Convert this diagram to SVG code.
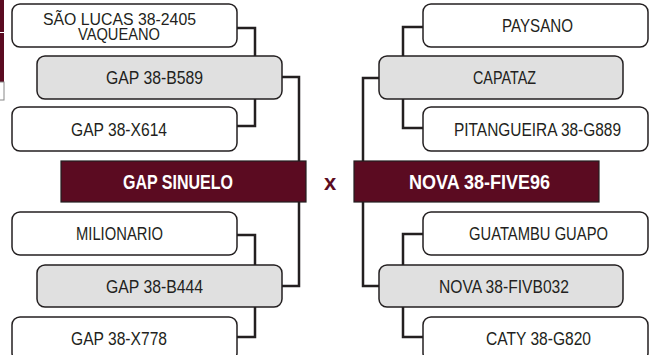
<svg xmlns="http://www.w3.org/2000/svg" width="656" height="355" viewBox="0 0 656 355">
<style>
.w{fill:#ffffff;stroke:#231f20;stroke-width:1.5}
.g{fill:#e0e0e0;stroke:#231f20;stroke-width:1.5}
.m{fill:#5b0b21;stroke:#231f20;stroke-width:1.2}
.t{font-family:"Liberation Sans Narrow","Liberation Sans",Arial,sans-serif;font-size:18px;fill:#231f20;text-anchor:middle}
.t2{font-family:"Liberation Sans Narrow","Liberation Sans",Arial,sans-serif;font-size:16px;fill:#231f20;text-anchor:middle}
.tb{font-family:"Liberation Sans Narrow","Liberation Sans",Arial,sans-serif;font-size:21px;font-weight:bold;fill:#ffffff;text-anchor:middle}
.c{fill:none;stroke:#231f20;stroke-width:2.5}
</style>
<rect x="0" y="0" width="656" height="355" fill="#ffffff"/>
<g id="edge-crop">
<rect x="-1" y="-1" width="5" height="33" fill="#5b0b21"/>
<rect x="-1" y="33" width="5" height="49" fill="#5b0b21"/>
<rect x="-1" y="82" width="5" height="18" fill="#ffffff" stroke="#888" stroke-width="1"/>
</g>
<g id="connectors">
<path class="c" d="M237,28 H255 V56"/>
<path class="c" d="M237,126 H255 V99"/>
<path class="c" d="M282,77 H299 V161"/>
<path class="c" d="M237,235 H255 V265"/>
<path class="c" d="M237,337 H255 V307"/>
<path class="c" d="M282,286 H299 V202"/>
<path class="c" d="M423,27 H403 V56"/>
<path class="c" d="M423,128 H403 V99"/>
<path class="c" d="M379,78 H363 V161"/>
<path class="c" d="M423,234 H403 V265"/>
<path class="c" d="M423,337 H403 V307"/>
<path class="c" d="M379,286 H363 V202"/>
</g>
<g id="sao-lucas"><rect class="w" x="12" y="4" width="225" height="43" rx="8"/>
<text class="t2" x="119.5" y="24.5" textLength="153" lengthAdjust="spacingAndGlyphs">SÃO LUCAS 38-2405</text>
<text class="t2" x="119" y="40" textLength="82" lengthAdjust="spacingAndGlyphs">VAQUEANO</text></g>
<g id="gap-b589"><rect class="g" x="37" y="56" width="245" height="43" rx="8"/>
<text class="t" x="154.5" y="84" textLength="97" lengthAdjust="spacingAndGlyphs">GAP 38-B589</text></g>
<g id="gap-x614"><rect class="w" x="12" y="107" width="225" height="44" rx="8"/>
<text class="t" x="119" y="135.5" textLength="96" lengthAdjust="spacingAndGlyphs">GAP 38-X614</text></g>
<g id="gap-sinuelo"><rect class="m" x="61" y="161" width="245" height="41"/>
<text class="tb" x="178" y="189" textLength="110" lengthAdjust="spacingAndGlyphs">GAP SINUELO</text></g>
<g id="milionario"><rect class="w" x="12" y="212" width="225" height="43" rx="8"/>
<text class="t" x="119.5" y="240" textLength="87" lengthAdjust="spacingAndGlyphs">MILIONARIO</text></g>
<g id="gap-b444"><rect class="g" x="37" y="265" width="245" height="42" rx="8"/>
<text class="t" x="154.5" y="292.5" textLength="97" lengthAdjust="spacingAndGlyphs">GAP 38-B444</text></g>
<g id="gap-x778"><rect class="w" x="12" y="317" width="225" height="44" rx="8"/>
<text class="t" x="119" y="345" textLength="96" lengthAdjust="spacingAndGlyphs">GAP 38-X778</text></g>
<text x="330" y="190" font-family="'Liberation Sans Narrow','Liberation Sans',Arial,sans-serif" font-size="22" font-weight="bold" fill="#5b0b21" text-anchor="middle">x</text>
<g id="paysano"><rect class="w" x="423" y="4" width="225" height="43" rx="8"/>
<text class="t" x="537.5" y="32" textLength="71" lengthAdjust="spacingAndGlyphs">PAYSANO</text></g>
<g id="capataz"><rect class="g" x="379" y="56" width="244" height="43" rx="8"/>
<text class="t" x="504.5" y="84" textLength="63" lengthAdjust="spacingAndGlyphs">CAPATAZ</text></g>
<g id="pitangueira"><rect class="w" x="423" y="107" width="225" height="44" rx="8"/>
<text class="t" x="537.5" y="135.5" textLength="167" lengthAdjust="spacingAndGlyphs">PITANGUEIRA 38-G889</text></g>
<g id="nova-five96"><rect class="m" x="354" y="161" width="245" height="41"/>
<text class="tb" x="479.5" y="189" textLength="141" lengthAdjust="spacingAndGlyphs">NOVA 38-FIVE96</text></g>
<g id="guatambu"><rect class="w" x="423" y="212" width="225" height="43" rx="8"/>
<text class="t" x="538.5" y="240" textLength="139" lengthAdjust="spacingAndGlyphs">GUATAMBU GUAPO</text></g>
<g id="nova-fivb032"><rect class="g" x="379" y="265" width="244" height="42" rx="8"/>
<text class="t" x="504" y="292.5" textLength="130" lengthAdjust="spacingAndGlyphs">NOVA 38-FIVB032</text></g>
<g id="caty"><rect class="w" x="423" y="317" width="225" height="44" rx="8"/>
<text class="t" x="538.5" y="345" textLength="105" lengthAdjust="spacingAndGlyphs">CATY 38-G820</text></g>
</svg>
